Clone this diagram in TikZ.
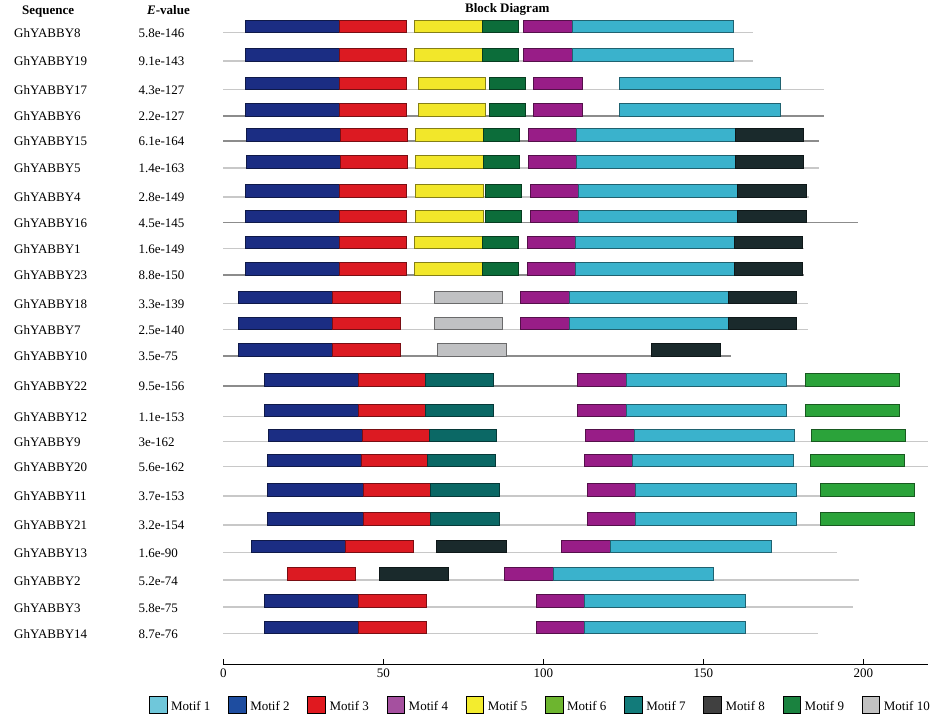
\documentclass[tikz,border=0pt]{standalone}
\usepackage{fontspec}
\setmainfont{Liberation Serif}
\definecolor{c1}{HTML}{3AB2CC}
\definecolor{c2}{HTML}{1B2D83}
\definecolor{c3}{HTML}{DC1A22}
\definecolor{c4}{HTML}{981D87}
\definecolor{c5}{HTML}{F2E72A}
\definecolor{c6}{HTML}{2BA33A}
\definecolor{c7}{HTML}{0B6865}
\definecolor{c8}{HTML}{1A2A2C}
\definecolor{c9}{HTML}{0C6D3A}
\definecolor{c10}{HTML}{C0C1C3}
\definecolor{L1}{HTML}{6FC7DA}
\definecolor{L2}{HTML}{1E4DA0}
\definecolor{L3}{HTML}{E0191F}
\definecolor{L4}{HTML}{A5509F}
\definecolor{L5}{HTML}{F3EC2E}
\definecolor{L6}{HTML}{6DB52F}
\definecolor{L7}{HTML}{127B7A}
\definecolor{L8}{HTML}{404040}
\definecolor{L9}{HTML}{1A823F}
\definecolor{L10}{HTML}{C1C1C1}
\definecolor{bbl}{HTML}{C8C8C8}
\definecolor{bbd}{HTML}{8C8C8C}
\tikzset{
  lab/.style={font=\fontsize{13}{15}\selectfont, inner sep=0pt, anchor=base west},
  hdr/.style={font=\fontsize{13}{15}\selectfont\bfseries, inner sep=0pt, anchor=base west},
  bbline/.style={line width=1.6pt},
  blk/.style={line width=0.7pt},
  legsq/.style={draw=black, line width=0.8pt},
}
\newcommand\yrow[6]{%
  \node[lab] (n#4) at (14,#1+17.5) {#4};
  \node[lab] (e#4) at (138.3,#1+17.5) {#5};
  \draw[bbline,draw=#3] (223.3,#1+12.5) -- (#2,#1+12.5);
  \foreach \c/\a/\b in {#6} {\draw[blk,fill=\c,draw=\c!55!black] (\a,#1) rectangle (\b,#1+12.7);}
}
\begin{document}
\begin{tikzpicture}[x=1pt,y=-1pt]
\useasboundingbox (0,0) rectangle (940,723);
\fill[white] (0,0) rectangle (940,723);
\node[hdr] (hseq) at (22,14) {Sequence};
\node[hdr] (hev) at (147,14) {\textit{E}-value};
\node[hdr] (hbd) at (465,12) {Block Diagram};
\yrow{20}{753}{bbl}{GhYABBY8}{5.8e-146}{c2/245/339, c3/339/406, c5/414.5/482, c9/482/518.5, c4/523.5/572, c1/572/733}
\yrow{48.3}{753}{bbl}{GhYABBY19}{9.1e-143}{c2/245/339, c3/339/406, c5/414.5/482, c9/482/518.5, c4/523.5/572, c1/572/733}
\yrow{77}{824}{bbl}{GhYABBY17}{4.3e-127}{c2/245/339, c3/339/406, c5/418.5/485.7, c9/489/525, c4/533/582.3, c1/619.7/780.5}
\yrow{103.3}{824}{bbd}{GhYABBY6}{2.2e-127}{c2/245/339, c3/339/406, c5/418.5/485.7, c9/489/525, c4/533/582.3, c1/619.7/780.5}
\yrow{128.3}{818.5}{bbd}{GhYABBY15}{6.1e-164}{c2/246/340, c3/340/407.4, c5/415/483, c9/483/519, c4/528/576.5, c1/576.5/735.6, c8/735.6/803.4}
\yrow{155.3}{818.5}{bbl}{GhYABBY5}{1.4e-163}{c2/246/340, c3/340/407.4, c5/415/483, c9/483/519, c4/528/576.5, c1/576.5/735.6, c8/735.6/803.4}
\yrow{184.3}{809}{bbl}{GhYABBY4}{2.8e-149}{c2/245/339.4, c3/339.4/406, c5/415/483.3, c9/485/521.7, c4/530.3/578.7, c1/578.7/737.7, c8/737.7/806.7}
\yrow{210}{858}{bbd}{GhYABBY16}{4.5e-145}{c2/245/339.4, c3/339.4/406, c5/415/483.3, c9/485/521.7, c4/530.3/578.7, c1/578.7/737.7, c8/737.7/806.7}
\yrow{236}{804}{bbl}{GhYABBY1}{1.6e-149}{c2/245/339, c3/339/406, c5/414.5/482, c9/482/518.4, c4/527.5/575.7, c1/575.7/734.6, c8/734.6/802.6}
\yrow{262.3}{804}{bbd}{GhYABBY23}{8.8e-150}{c2/245/339, c3/339/406, c5/414.5/482, c9/482/518.4, c4/527.5/575.7, c1/575.7/734.6, c8/734.6/802.6}
\yrow{291}{807.7}{bbl}{GhYABBY18}{3.3e-139}{c2/238.8/332.5, c3/332.5/400.2, c10/434.3/502, c4/520.8/569.4, c1/569.4/728.3, c8/728.3/796.5}
\yrow{317}{807.7}{bbl}{GhYABBY7}{2.5e-140}{c2/238.8/332.5, c3/332.5/400.2, c10/434.3/502, c4/520.8/569.4, c1/569.4/728.3, c8/728.3/796.5}
\yrow{343.3}{731}{bbd}{GhYABBY10}{3.5e-75}{c2/238.8/332.5, c3/332.5/400.2, c10/437/506, c8/651/720.4}
\yrow{373.3}{805}{bbd}{GhYABBY22}{9.5e-156}{c2/264/358.2, c3/358.2/425.8, c7/425.8/493, c4/577.6/626.5, c1/626.5/786.5, c6/805/899}
\yrow{404}{805}{bbl}{GhYABBY12}{1.1e-153}{c2/264/358.2, c3/358.2/425.8, c7/425.8/493, c4/577.6/626.5, c1/626.5/786.5, c6/805/899}
\yrow{429}{928}{bbl}{GhYABBY9}{3e-162}{c2/268.4/362.5, c3/362.5/429, c7/429/496.5, c4/585.2/634, c1/634/794, c6/811.5/905.8}
\yrow{454}{928}{bbl}{GhYABBY20}{5.6e-162}{c2/267.5/361.6, c3/361.6/427.7, c7/427.7/495.6, c4/584.3/632.7, c1/632.7/793.3, c6/810.5/904.6}
\yrow{483.3}{820}{bbl}{GhYABBY11}{3.7e-153}{c2/267.5/363, c3/363/430.4, c7/430.4/499.2, c4/587/635.8, c1/635.8/796, c6/820.5/914.6}
\yrow{512.3}{820}{bbl}{GhYABBY21}{3.2e-154}{c2/267.5/363, c3/363/430.4, c7/430.4/499.2, c4/587/635.8, c1/635.8/796, c6/820.5/914.6}
\yrow{540}{836.7}{bbl}{GhYABBY13}{1.6e-90}{c2/251.7/345.5, c3/345.5/413, c8/436.7/506, c4/561.8/610.6, c1/610.6/771.5}
\yrow{567.7}{858.5}{bbl}{GhYABBY2}{5.2e-74}{c3/287.2/355.5, c8/379.6/448.2, c4/504.5/553.2, c1/553.2/713.5}
\yrow{594.7}{852.5}{bbl}{GhYABBY3}{5.8e-75}{c2/264/358, c3/358/426.3, c4/536.7/584.8, c1/584.8/745.5}
\yrow{621}{817.7}{bbl}{GhYABBY14}{8.7e-76}{c2/264/358, c3/358/426.3, c4/536.7/584.8, c1/584.8/745.5}
% axis
\draw[line width=1pt] (223.3,664) -- (928,664);
\foreach \v [count=\i from 0] in {0,50,100,150,200} {
  \draw[line width=1pt] (223.3+160*\i,664) -- (223.3+160*\i,659);
  \node[font=\fontsize{13}{15}\selectfont, inner sep=0pt, anchor=base] (t\i) at (223.3+160*\i,677) {\v};
}
% legend
\foreach \k [count=\i from 0] in {1,...,10} {
  \draw[legsq, fill=L\k] (149.3+79.2*\i,696) rectangle (166.9+79.2*\i,713.3);
  \node[lab] (leg\k) at (170.9+79.2*\i,710) {Motif \k};
}
\end{tikzpicture}
\end{document}
